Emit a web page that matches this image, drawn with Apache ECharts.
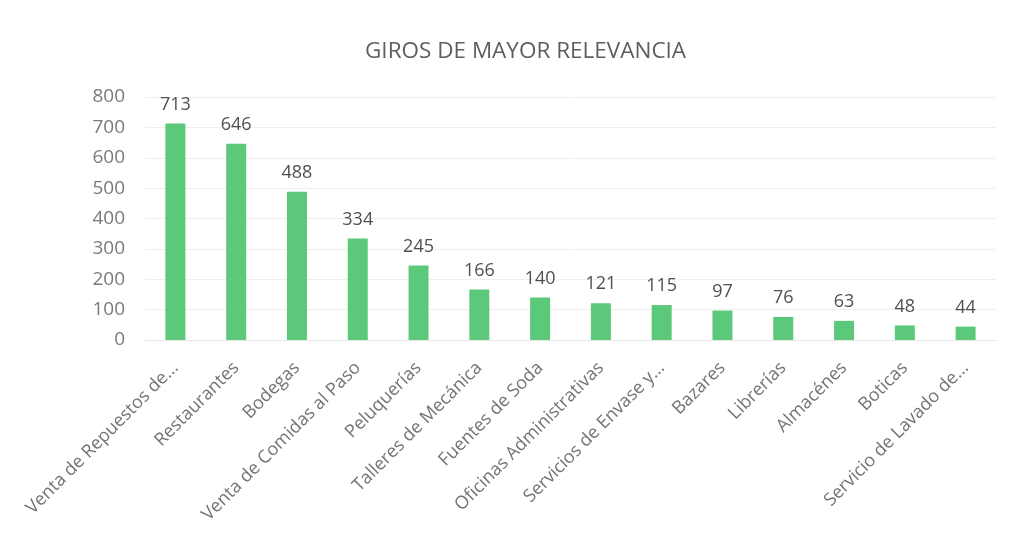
<!DOCTYPE html>
<html><head><meta charset="utf-8">
<script src="https://cdn.jsdelivr.net/npm/echarts@6/dist/echarts.min.js"></script>
<style>html,body{margin:0;padding:0;background:#fff}#c{width:1013px;height:545px}</style>
</head><body><div id="c"></div>
<script>
const categories = ["Venta de Repuestos de...", "Restaurantes", "Bodegas", "Venta de Comidas al Paso", "Peluquerías", "Talleres de Mecánica", "Fuentes de Soda", "Oficinas Administrativas", "Servicios de Envase y...", "Bazares", "Librerías", "Almacénes", "Boticas", "Servicio de Lavado de..."];
const values = [713, 646, 488, 334, 245, 166, 140, 121, 115, 97, 76, 63, 48, 44];
const yTicks = [0, 100, 200, 300, 400, 500, 600, 700, 800];
const titleText = "GIROS DE MAYOR RELEVANCIA";

const font = "'Open Sans', sans-serif";
const chart = echarts.init(document.getElementById('c'));
chart.setOption({
  backgroundColor: '#ffffff',
  animation: false,
  title: {text: titleText, left: 360, top: 35,
    textStyle: {fontFamily: font, fontSize: 22.5, fontWeight: 'normal', color: '#5e5e5e'}},
  grid: {left: 145, right: 17, top: 97, bottom: 205, containLabel: false},
  xAxis: {type: 'category', data: categories,
    axisLine: {show: true, lineStyle: {color: '#e6e6e6'}},
    axisTick: {show: false},
    axisLabel: {rotate: 45, interval: 0, fontFamily: font, fontSize: 18, color: '#747474', margin: 25}},
  yAxis: {type: 'value', min: yTicks[0], max: yTicks[yTicks.length-1], interval: 100,
    axisLine: {show: false}, axisTick: {show: false},
    splitLine: {lineStyle: {color: '#eeeeee'}},
    axisLabel: {fontFamily: font, fontSize: 19, color: '#7a7a7a', margin: 20}},
  series: [{type: 'bar', data: values, barWidth: 20,
    itemStyle: {color: '#5cc97a'},
    label: {show: true, position: 'top', distance: 10, fontFamily: font, fontSize: 18, color: '#505050'}}]
});
</script></body></html>
